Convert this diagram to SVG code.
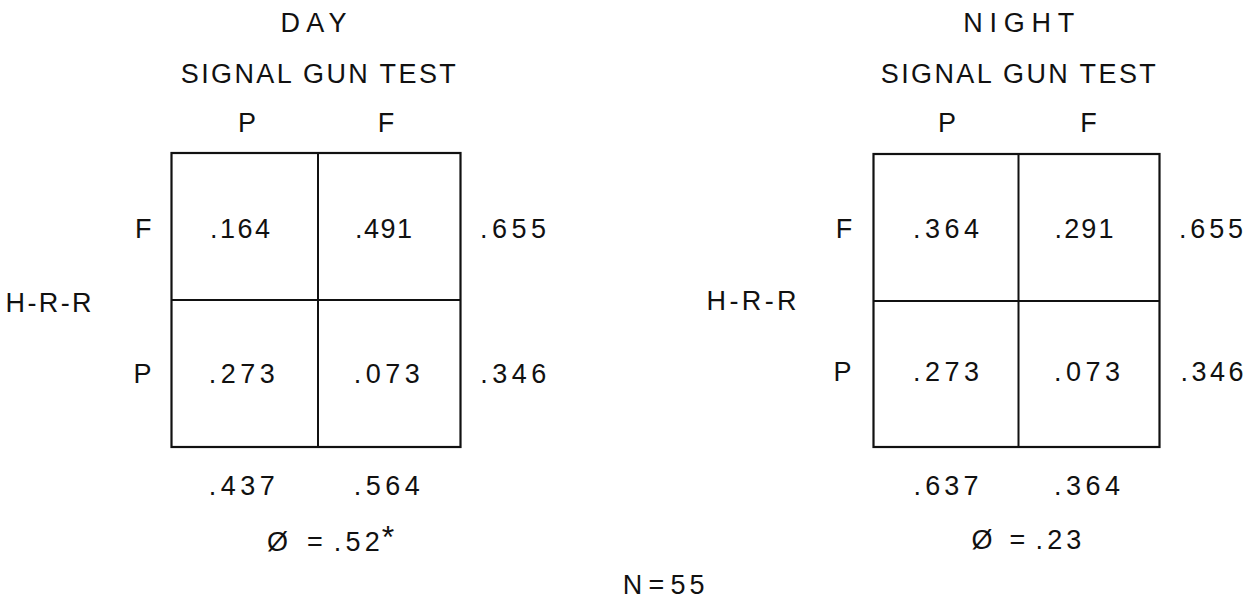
<svg xmlns="http://www.w3.org/2000/svg" width="1252" height="600" viewBox="0 0 1252 600">
<style>
  text { font-family: "Liberation Sans", Arial, sans-serif; font-size: 27px; fill: #111; text-anchor: middle; }
  .grid { fill: none; stroke: #111; stroke-width: 2.2; }
  .div { stroke: #111; stroke-width: 2; }
  .sup { font-size: 32px; }
</style>
<rect width="1252" height="600" fill="#fff"/>

<g id="day">
  <g id="day-titles">
    <text x="313.5" y="32" textLength="66" lengthAdjust="spacing">DAY</text>
    <text x="318.3" y="83" textLength="275" lengthAdjust="spacing">SIGNAL GUN TEST</text>
    <text x="247" y="132">P</text>
    <text x="386" y="132">F</text>
  </g>
  <g id="day-rows">
    <text x="48.6" y="312" textLength="86" lengthAdjust="spacing">H-R-R</text>
    <text x="143.3" y="238">F</text>
    <text x="142.5" y="383">P</text>
  </g>
  <g id="day-grid">
    <rect class="grid" x="171.5" y="153" width="289" height="294"/>
    <line class="div" x1="318" y1="153" x2="318" y2="447"/>
    <line class="div" x1="171.5" y1="300" x2="460.5" y2="300"/>
  </g>
  <g id="day-cells">
    <text x="240" y="238" textLength="60" lengthAdjust="spacing">.164</text>
    <text x="383.5" y="238" textLength="57" lengthAdjust="spacing">.491</text>
    <text x="241.7" y="383" textLength="66" lengthAdjust="spacing">.273</text>
    <text x="386.7" y="383" textLength="66" lengthAdjust="spacing">.073</text>
  </g>
  <g id="day-margins">
    <text x="513" y="238" textLength="66" lengthAdjust="spacing">.655</text>
    <text x="513.3" y="383" textLength="66" lengthAdjust="spacing">.346</text>
    <text x="241.7" y="495" textLength="66" lengthAdjust="spacing">.437</text>
    <text x="386.7" y="495" textLength="66" lengthAdjust="spacing">.564</text>
  </g>
  <g id="day-phi">
    <text y="551"><tspan x="277.5">Ø</tspan><tspan x="315">=</tspan><tspan x="356.7" textLength="46" lengthAdjust="spacing">.52</tspan><tspan class="sup" x="388" dy="-3">*</tspan></text>
  </g>
</g>

<g id="night">
  <g id="night-titles">
    <text x="1018.8" y="32" textLength="111" lengthAdjust="spacing">NIGHT</text>
    <text x="1018.3" y="83" textLength="275" lengthAdjust="spacing">SIGNAL GUN TEST</text>
    <text x="947" y="132">P</text>
    <text x="1088.5" y="132">F</text>
  </g>
  <g id="night-rows">
    <text x="751.5" y="310" textLength="90" lengthAdjust="spacing">H-R-R</text>
    <text x="844" y="238">F</text>
    <text x="842.5" y="381">P</text>
  </g>
  <g id="night-grid">
    <rect class="grid" x="873.5" y="154" width="286" height="293"/>
    <line class="div" x1="1018.5" y1="154" x2="1018.5" y2="447"/>
    <line class="div" x1="873.5" y1="301" x2="1159.5" y2="301"/>
  </g>
  <g id="night-cells">
    <text x="946" y="238" textLength="66" lengthAdjust="spacing">.364</text>
    <text x="1084" y="238" textLength="59" lengthAdjust="spacing">.291</text>
    <text x="946" y="381" textLength="66" lengthAdjust="spacing">.273</text>
    <text x="1087" y="381" textLength="66" lengthAdjust="spacing">.073</text>
  </g>
  <g id="night-margins">
    <text x="1211" y="238" textLength="64" lengthAdjust="spacing">.655</text>
    <text x="1212" y="381" textLength="63" lengthAdjust="spacing">.346</text>
    <text x="946" y="495" textLength="65" lengthAdjust="spacing">.637</text>
    <text x="1087" y="495" textLength="66" lengthAdjust="spacing">.364</text>
  </g>
  <g id="night-phi">
    <text y="549"><tspan x="982">Ø</tspan><tspan x="1017.4">=</tspan><tspan x="1058.4" textLength="46" lengthAdjust="spacing">.23</tspan></text>
  </g>
</g>

<g id="sample-size">
  <text y="594"><tspan x="632.5">N</tspan><tspan x="656.5">=</tspan><tspan x="687.5" textLength="34" lengthAdjust="spacing">55</tspan></text>
</g>

<g id="connectors"></g>
</svg>
